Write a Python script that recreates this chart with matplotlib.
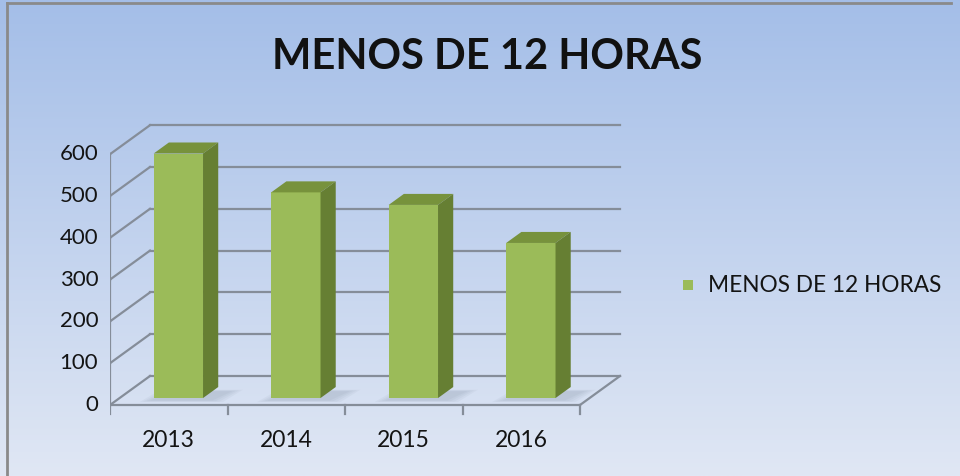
import matplotlib
matplotlib.use("Agg")
import matplotlib.pyplot as plt
import numpy as np
from matplotlib.patches import Polygon, Rectangle

# data
years = ['2013', '2014', '2015', '2016']
values = [585, 492, 462, 371]
series_name = 'MENOS DE 12 HORAS'
y_ticks = [0, 100, 200, 300, 400, 500, 600]

plt.rcParams['font.family'] = ['Lato', 'DejaVu Sans']

W, H = 960, 476
fig = plt.figure(figsize=(W / 100, H / 100), dpi=100)

# background gradient + frame
bg = fig.add_axes([0, 0, 1, 1])
top_c = np.array([164, 190, 232]) / 255
bot_c = np.array([224, 231, 244]) / 255
t = np.linspace(0, 1, 256)[:, None]
grad = top_c * (1 - t[..., None]) + bot_c * t[..., None]
grad = np.repeat(grad, 2, axis=1)
bg.imshow(grad, aspect='auto', extent=[0, W, H, 0])
bg.set_xlim(0, W)
bg.set_ylim(H, 0)
bg.plot([7, 7], [H, 3], color='#8a8a8a', lw=2)
bg.plot([7, 951], [3, 3], color='#8a8a8a', lw=2)
bg.axis('off')

# oblique projection for the 3d look
DX = 40 / 117.5     # depth shift in category units
DY = 29 / 0.418     # depth shift in value units
px_l, px_r, px_t, px_b = 110, 640, 110, 420
ax = fig.add_axes([px_l / W, (H - px_b) / H, (px_r - px_l) / W, (px_b - px_t) / H])
ax.set_xlim(-0.5, -0.5 + (px_r - px_l) / 117.5)
ax.set_ylim((405 - px_b) / 0.418, (405 - px_t) / 0.418)
ax.patch.set_alpha(0)
ax.axis('off')

n = len(years)
grid_c = '#858d99'
lw = 1.6
x0, x1 = -0.5, n - 0.5

# back wall gridlines and diagonal connectors
for v in y_ticks:
    ax.plot([x0 + DX, x1 + DX], [v + DY, v + DY], color=grid_c, lw=lw, zorder=1)
    ax.plot([x0, x0 + DX], [v, v + DY], color=grid_c, lw=lw, zorder=1)
    ax.plot([x0 - 0.06, x0], [v, v], color=grid_c, lw=lw, zorder=1)
# floor
ax.plot([x0, x1], [0, 0], color=grid_c, lw=lw, zorder=1)
ax.plot([x1, x1 + DX], [0, DY], color=grid_c, lw=lw, zorder=1)
# front vertical axis
ax.plot([x0, x0], [0, y_ticks[-1]], color=grid_c, lw=lw, zorder=1)
# category ticks
for k in range(n + 1):
    ax.plot([x0 + k, x0 + k], [0, -22], color=grid_c, lw=lw, zorder=1)

# bars
w = 0.42
d0, d1 = 0.24, 0.62
front_c = '#9bbb59'
top_col = '#77923c'
side_c = '#667f33'
for i, v in enumerate(values):
    fx = i - w / 2 + d0 * DX
    fy = d0 * DY
    bx = i - w / 2 + d1 * DX
    by = d1 * DY
    # soft floor shadow, a few faint layers
    for s in [0.09, 0.06, 0.03, 0.0]:
        shadow = Polygon([(fx - 0.03 - s, fy - 6 - s * 40), (fx + w + 0.08 + s, fy - 6 - s * 40),
                          (bx + w + 0.12 + s, by - 10 + s * 40), (bx + 0.02 - s, by - 10 + s * 40)],
                         closed=True, facecolor='#56657a', edgecolor='none',
                         alpha=0.05, zorder=2)
        ax.add_patch(shadow)
    ax.add_patch(Polygon([(fx, fy), (fx + w, fy), (fx + w, fy + v), (fx, fy + v)],
                         facecolor=front_c, edgecolor='none', zorder=4))
    ax.add_patch(Polygon([(fx, fy + v), (fx + w, fy + v), (bx + w, by + v), (bx, by + v)],
                         facecolor=top_col, edgecolor='none', zorder=4))
    ax.add_patch(Polygon([(fx + w, fy), (fx + w, fy + v), (bx + w, by + v), (bx + w, by)],
                         facecolor=side_c, edgecolor='none', zorder=4))
    ax.text(i, -84, years[i], ha='center', va='center', fontsize=16.5, color='#141414')

for v in y_ticks:
    ax.text(x0 - 0.1, v, str(v), ha='right', va='center', fontsize=16, color='#141414')

# title
fig.text(487 / W, 1 - 57 / H, series_name, ha='center', va='center',
         fontsize=30, fontweight='bold', color='#111111')

# legend
fig.patches.append(Rectangle((683 / W, 1 - 290 / H), 10 / W, 10 / H,
                             transform=fig.transFigure, facecolor=front_c,
                             edgecolor='none'))
fig.text(708 / W, 1 - 285 / H, series_name, ha='left', va='center',
         fontsize=16.3, color='#141414')

fig.savefig('out.png', dpi=100)
